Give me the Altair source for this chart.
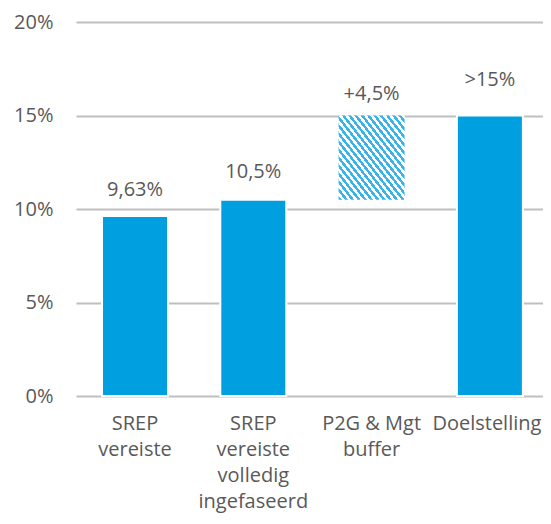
import altair as alt
import pandas as pd

categories = ["SREP\nvereiste", "SREP\nvereiste\nvolledig\ningefaseerd", "P2G & Mgt\nbuffer", "Doelstelling"]
bar_start = [0, 0, 10.5, 0]
bar_end = [9.63, 10.5, 15, 15]
labels = ["9,63%", "10,5%", "+4,5%", ">15%"]
hatched = [False, False, True, False]
y_ticks = [0, 5, 10, 15, 20]

df = pd.DataFrame({"cat": categories, "start": bar_start, "end": bar_end,
                   "label": labels, "hatched": hatched})

BLUE = "#009FDF"
STRIPE = "#3AB3E8"
TXT = "#595959"
FONT = "Open Sans"

# diagonal stripes via hard-stop linear gradient
N = 21
stops = []
for k in range(N):
    a = k / N
    m = (k + 0.5) / N
    b = (k + 1) / N
    stops += [alt.GradientStop(offset=a, color=STRIPE), alt.GradientStop(offset=m, color=STRIPE),
              alt.GradientStop(offset=m, color="white"), alt.GradientStop(offset=b, color="white")]
hatch = alt.LinearGradient(gradient="linear", stops=stops, x1=0, y1=1, x2=1, y2=0)

x = alt.X("cat:N", sort=categories, title=None,
          scale=alt.Scale(paddingInner=0.442, paddingOuter=0.195, align=0.564),
          axis=alt.Axis(labelAngle=0, labelExpr="split(datum.label, '\\n')", labelFontSize=20,
                        labelColor=TXT, labelFont=FONT, labelLineHeight=26, labelPadding=17,
                        labelOffset={"condition": {"test": "datum.label == 'Doelstelling'", "value": -3},
                                     "value": 0},
                        ticks=False, domain=False, grid=False, labelBaseline="top"))
y = alt.Y("start:Q", title=None,
          scale=alt.Scale(domain=[0, 20], nice=False),
          axis=alt.Axis(values=y_ticks, labelExpr="datum.value + '%'", labelFontSize=20,
                        labelColor=TXT, labelFont=FONT, labelPadding=23, ticks=False,
                        domain=False, grid=True, gridColor="#BFBFBF", gridWidth=2))

base = alt.Chart(df)
solid = base.transform_filter("!datum.hatched").mark_bar(color=BLUE, stroke="white", strokeWidth=2).encode(
    x=x, y=y, y2="end:Q")
hbar = base.transform_filter("datum.hatched").mark_bar(fill=hatch).encode(
    x=x, y=y, y2="end:Q")

dys = {"9,63%": -20, "10,5%": -22, "+4,5%": -16, ">15%": -30}
texts = []
for lab, dy in dys.items():
    texts.append(base.transform_filter(alt.datum.label == lab).mark_text(
        fontSize=20, font=FONT, color=TXT, baseline="alphabetic", dy=dy).encode(
        x=alt.X("cat:N", sort=categories), y=alt.Y("end:Q"), text="label:N"))

chart = alt.layer(solid, hbar, *texts).properties(
    width=467, height=374,
    autosize=alt.AutoSizeParams(type="none"),
    padding={"left": 68, "top": 14, "right": 0, "bottom": 120},
).configure_view(stroke=None)

chart.save("out.html", embed_options={"renderer": "svg", "actions": False})
